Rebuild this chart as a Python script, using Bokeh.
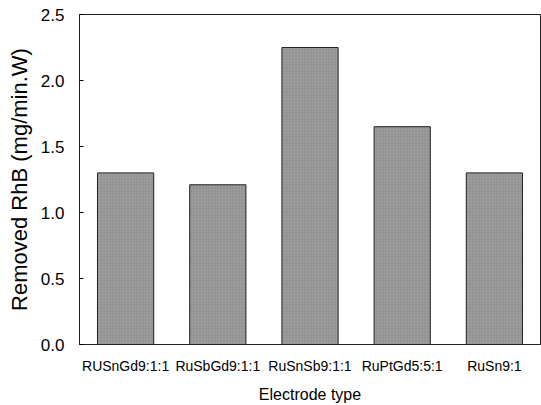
from bokeh.plotting import figure
from bokeh.models import FactorRange, Range1d, FixedTicker, PrintfTickFormatter, ColumnDataSource
from bokeh.embed import file_html
from bokeh.resources import INLINE

categories = ["RUSnGd9:1:1", "RuSbGd9:1:1", "RuSnSb9:1:1", "RuPtGd5:5:1", "RuSn9:1"]
removed = [1.30, 1.21, 2.25, 1.65, 1.30]
y_ticks = [0.0, 0.5, 1.0, 1.5, 2.0, 2.5]

src = ColumnDataSource(dict(cat=categories, val=removed))

p = figure(width=541, height=405, output_backend="svg", toolbar_location=None,
           x_range=FactorRange(*categories, range_padding=0), y_range=Range1d(0, 2.5),
           min_border_left=79, min_border_right=1, min_border_top=14, min_border_bottom=57)

p.vbar(x="cat", top="val", width=0.61, source=src, fill_color="#9c9c9c",
       line_color="#222222", line_width=1, hatch_pattern="dot", hatch_color="#6e6e6e",
       hatch_scale=3, hatch_alpha=0.6)

p.xgrid.visible = False
p.ygrid.visible = False
p.outline_line_color = "#222222"
p.outline_line_width = 1
p.background_fill_color = "white"
p.border_fill_color = "white"

font = "Liberation Sans"
p.yaxis.ticker = FixedTicker(ticks=y_ticks)
p.yaxis.formatter = PrintfTickFormatter(format="%.1f")
p.yaxis.minor_tick_line_color = None
p.yaxis.major_tick_in = 4
p.yaxis.major_tick_out = 0
p.yaxis.major_label_standoff = 15
p.yaxis.major_label_text_font = font
p.yaxis.major_label_text_font_size = "17px"
p.yaxis.major_label_text_color = "black"
p.yaxis.axis_line_color = "#222222"
p.yaxis.axis_label = "Removed RhB (mg/min.W)"
p.yaxis.axis_label_text_font = font
p.yaxis.axis_label_text_font_size = "22px"
p.yaxis.axis_label_text_font_style = "normal"
p.yaxis.axis_label_text_color = "black"
p.yaxis.axis_label_standoff = 6

p.xaxis.major_tick_line_color = None
p.xaxis.minor_tick_line_color = None
p.xaxis.major_label_standoff = 7
p.xaxis.major_label_text_font = font
p.xaxis.major_label_text_font_size = "14px"
p.xaxis.major_label_text_color = "black"
p.xaxis.axis_line_color = "#222222"
p.xaxis.axis_label = "Electrode type"
p.xaxis.axis_label_text_font = font
p.xaxis.axis_label_text_font_size = "16px"
p.xaxis.axis_label_text_font_style = "normal"
p.xaxis.axis_label_text_color = "black"
p.xaxis.axis_label_standoff = 9

open("out.html", "w").write(file_html(p, INLINE))
